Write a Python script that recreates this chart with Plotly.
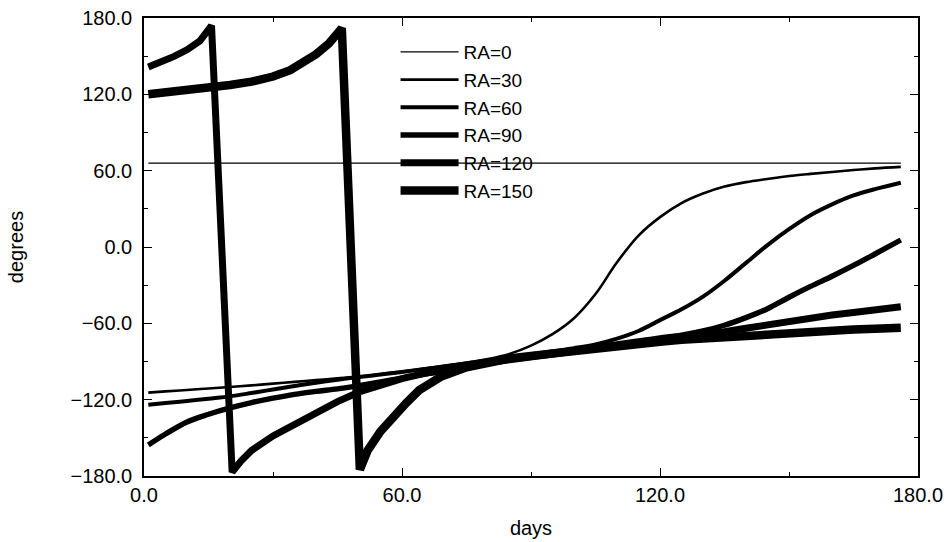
import plotly.graph_objects as go

# Angle (degrees) versus time (days) for several right-ascension values
days_grid = [1, 5, 10, 15, 20, 25, 30, 35, 40, 45, 50, 55, 60, 65, 70, 75, 80, 85,
             90, 95, 100, 105, 110, 115, 120, 125, 130, 135, 140, 145, 150, 155,
             160, 165, 170, 176]

ra0_days = [1, 176]
ra0_deg = [66, 66]

ra30_deg = [-114.5, -113.5, -112.4, -111.2, -110.0, -108.8, -107.4, -106.0, -104.6,
            -103.2, -101.8, -100.0, -97.8, -95.6, -93.3, -90.8, -88.0, -84.0,
            -77.5, -68.5, -56.0, -37.0, -12.0, 9.0, 23.5, 34.5, 42.0, 47.5,
            51.0, 53.5, 55.8, 57.5, 59.0, 60.5, 61.8, 63.0]

ra60_deg = [-124.0, -122.7, -121.0, -119.2, -117.4, -114.8, -112.0, -109.3, -106.7,
            -104.3, -102.2, -100.2, -98.2, -96.0, -93.8, -91.5, -89.2, -86.5,
            -84.3, -82.0, -79.5, -76.5, -72.0, -66.0, -57.5, -49.0, -39.0, -26.5,
            -12.5, 1.5, 14.0, 25.0, 33.5, 40.5, 45.5, 50.5]

ra90_deg = [-155.6, -147.0, -137.5, -131.5, -126.5, -122.3, -118.8, -115.8, -113.5,
            -111.5, -109.0, -106.0, -103.0, -100.0, -97.5, -94.0, -91.0, -88.2,
            -85.8, -83.2, -80.8, -78.4, -76.2, -73.8, -71.5, -69.3, -66.0, -61.5,
            -55.5, -48.5, -39.5, -31.0, -23.0, -14.5, -5.5, 5.5]

ra120_days = [1, 4, 7, 10, 13, 15.7, 20.5, 22.5, 25, 30, 35, 40, 45, 50, 55, 60, 65,
              70, 75, 80, 85, 90, 95, 100, 105, 110, 115, 120, 125, 130, 135, 140,
              145, 150, 155, 160, 165, 170, 176]
ra120_deg = [141.5, 145.0, 149.8, 155.0, 162.0, 174.0, -177.0, -168.5, -160.0, -148.5,
             -139.0, -130.5, -121.5, -114.0, -108.5, -103.5, -99.5, -96.3, -93.3,
             -90.8, -88.7, -86.6, -84.5, -82.3, -80.2, -78.1, -76.0, -73.7, -71.5,
             -69.0, -66.5, -63.8, -61.0, -58.2, -55.7, -53.5, -51.5, -49.4, -47.0]

ra150_days = [1, 5, 10, 15, 20, 25, 30, 34, 37, 40, 43, 46, 50.2, 52, 55, 58, 61, 64,
              69, 75, 80, 85, 90, 95, 100, 105, 110, 115, 120, 125, 130, 135, 140,
              145, 150, 155, 160, 165, 170, 176]
ra150_deg = [120.0, 121.3, 123.0, 125.0, 127.3, 130.0, 134.0, 139.0, 144.5, 151.5,
             160.0, 172.0, -175.0, -160.0, -145.0, -133.0, -122.6, -112.5, -102.0,
             -94.5, -90.3, -87.6, -85.6, -83.5, -81.5, -79.5, -77.6, -76.0, -74.5,
             -73.0, -71.8, -70.6, -69.4, -68.3, -67.3, -66.4, -65.6, -64.9, -64.2,
             -63.5]

series = [
    ("RA=0", ra0_days, ra0_deg, 1.2),
    ("RA=30", days_grid, ra30_deg, 2.6),
    ("RA=60", days_grid, ra60_deg, 4.0),
    ("RA=90", days_grid, ra90_deg, 5.4),
    ("RA=120", ra120_days, ra120_deg, 7.0),
    ("RA=150", ra150_days, ra150_deg, 8.5),
]

x_ticks = [0, 60, 120, 180]
y_ticks = [-180, -120, -60, 0, 60, 120, 180]

fig = go.Figure()
for name, xs, ys, width in series:
    smooth = name in ("RA=30", "RA=60", "RA=90")
    fig.add_trace(go.Scatter(
        x=xs, y=ys, mode="lines", name=name,
        line=dict(color="black", width=width,
                  shape="spline" if smooth else "linear",
                  smoothing=1.0 if smooth else None),
    ))

font_family = "Liberation Sans, Arial, Helvetica, sans-serif"

axis_common = dict(
    showline=True, linecolor="black", linewidth=1.5, mirror="ticks",
    ticks="inside", ticklen=8, tickwidth=1.2, tickcolor="black",
    showgrid=False, zeroline=False, tickformat=".1f", automargin=False,
    tickfont=dict(family=font_family, size=20, color="black"),
    minor=dict(ticks="inside", ticklen=4, tickwidth=1, tickcolor="black", dtick=30,
               showgrid=False),
)

fig.update_layout(
    width=951, height=542,
    margin=dict(l=144, r=33, t=18, b=66),
    paper_bgcolor="white", plot_bgcolor="white",
    font=dict(family=font_family, color="black"),
    showlegend=True,
    legend=dict(
        x=0.325, y=0.967, xanchor="left", yanchor="top",
        bgcolor="rgba(0,0,0,0)", borderwidth=0,
        font=dict(family=font_family, size=19, color="black"),
        itemwidth=58, tracegroupgap=0,
    ),
    xaxis=dict(
        range=[0, 180], tickvals=x_ticks,
        title=dict(text="days", font=dict(family=font_family, size=20), standoff=16),
        **axis_common,
    ),
    yaxis=dict(
        range=[-180, 180], tickvals=y_ticks,
        title=dict(text="degrees", font=dict(family=font_family, size=20), standoff=42),
        ticklabelstandoff=6,
        **axis_common,
    ),
)

fig.write_html("out.html")
